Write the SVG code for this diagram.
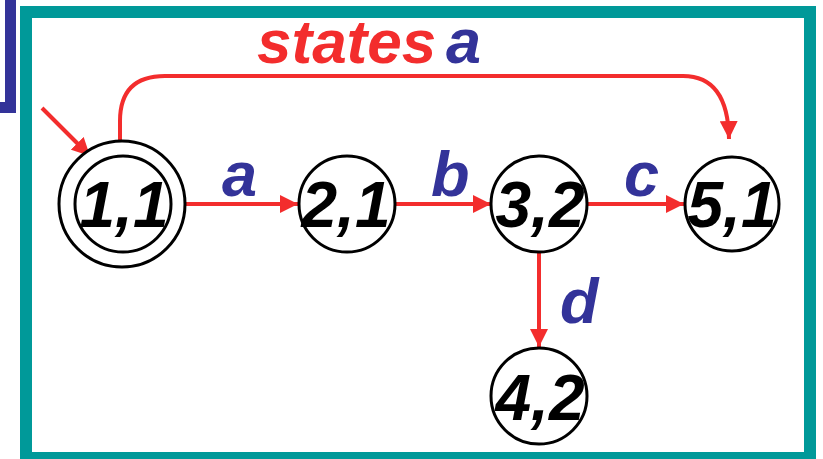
<svg xmlns="http://www.w3.org/2000/svg" width="823" height="459" viewBox="0 0 823 459">
  <defs>
    <marker id="arrow" markerUnits="userSpaceOnUse" markerWidth="20" markerHeight="18" refX="18" refY="9" orient="auto">
      <path d="M0,0 L18,9 L0,18 Z" fill="#f32d2d"/>
    </marker>
  </defs>
  <style>
    .frame { fill: none; stroke: #009999; stroke-width: 12; }
    .bar { fill: none; stroke: #333399; stroke-width: 11; }
    .state { fill: #fff; stroke: #000; stroke-width: 3; }
    .num { font-family: "Liberation Sans", Arial, sans-serif; font-weight: bold; font-style: italic; font-size: 64px; fill: #000; text-anchor: middle; }
    .edge { fill: none; stroke: #f32d2d; stroke-width: 4; marker-end: url(#arrow); }
    .lbl { font-family: "Liberation Sans", Arial, sans-serif; font-weight: bold; font-style: italic; font-size: 63px; fill: #333399; }
    .title { font-family: "Liberation Sans", Arial, sans-serif; font-weight: bold; font-style: italic; font-size: 62px; fill: #f32d2d; }
  </style>

  <!-- background and frame -->
  <rect width="823" height="459" fill="#fff"/>
  <polyline class="bar" points="10.5,0 10.5,107.5 -10,107.5"/>
  <rect class="frame" x="26" y="12" width="784" height="446"/>

  <!-- heading -->
  <text class="title" x="257" y="63">states</text>
  <text class="lbl" x="446" y="63" font-size="62">a</text>

  <!-- connectors -->
  <g id="edges">
    <line class="edge" x1="42" y1="108" x2="90" y2="156"/>
    <path class="edge" d="M120,141 L120,121 Q120,76 165,76 L683,76 Q728,76 729,139"/>
    <line class="edge" x1="185" y1="204" x2="298" y2="204"/>
    <line class="edge" x1="395" y1="204" x2="491" y2="204"/>
    <line class="edge" x1="587" y1="204" x2="684" y2="204"/>
    <line class="edge" x1="539" y1="252" x2="539" y2="347"/>
    <text class="lbl" x="222" y="196">a</text>
    <text class="lbl" x="431" y="196">b</text>
    <text class="lbl" x="624" y="196">c</text>
    <text class="lbl" x="560" y="323">d</text>
  </g>

  <!-- states -->
  <g id="s11">
    <circle class="state" cx="122" cy="204" r="63"/>
    <circle class="state" cx="123" cy="204" r="48"/>
    <text class="num" x="124" y="227">1,1</text>
  </g>
  <g id="s21">
    <circle class="state" cx="347" cy="204" r="48"/>
    <text class="num" x="346" y="227">2,1</text>
  </g>
  <g id="s32">
    <circle class="state" cx="539" cy="204" r="48"/>
    <text class="num" x="540" y="227">3,2</text>
  </g>
  <g id="s51">
    <circle class="state" cx="732" cy="204" r="47"/>
    <text class="num" x="732" y="227">5,1</text>
  </g>
  <g id="s42">
    <circle class="state" cx="539" cy="396" r="48"/>
    <text class="num" x="540" y="420">4,2</text>
  </g>
</svg>
